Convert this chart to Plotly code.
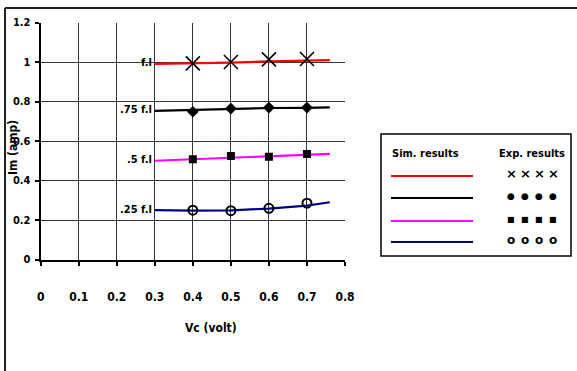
import plotly.graph_objects as go

# ---- data ----
sim_x = [0.3, 0.4, 0.5, 0.6, 0.7, 0.76]
sim_fl = [0.99, 0.993, 0.997, 1.003, 1.008, 1.01]
sim_75 = [0.753, 0.758, 0.765, 0.767, 0.768, 0.77]
sim_50 = [0.50, 0.507, 0.515, 0.522, 0.53, 0.535]
sim_25 = [0.25, 0.247, 0.249, 0.258, 0.273, 0.29]

exp_x = [0.4, 0.5, 0.6, 0.7]
exp_fl = [0.993, 1.0, 1.013, 1.015]
exp_75 = [0.748, 0.764, 0.769, 0.769]
exp_50 = [0.507, 0.524, 0.52, 0.534]
exp_25 = [0.25, 0.247, 0.259, 0.285]

load_labels = ["f.l", ".75 f.l", ".5 f.l", ".25 f.l"]
x_ticks = [0, 0.1, 0.2, 0.3, 0.4, 0.5, 0.6, 0.7, 0.8]
x_ticktext = ["0", "0.1", "0.2", "0.3", "0.4", "0.5", "0.6", "0.7", "0.8"]
y_ticks = [0, 0.2, 0.4, 0.6, 0.8, 1.0, 1.2]
y_ticktext = ["0", "0.2", "0.4", "0.6", "0.8", "1", "1.2"]

FONT = "DejaVu Sans Condensed, Liberation Sans Narrow, sans-serif"
W, H = 577, 371

colors = ["#ff0000", "#000000", "#ff00ff", "#000080"]
sims = [sim_fl, sim_75, sim_50, sim_25]
exps = [exp_fl, exp_75, exp_50, exp_25]
markers = [
    dict(symbol="x-thin", size=14, line=dict(width=1.6, color="black"), color="black"),
    dict(symbol="diamond", size=9, color="black"),
    dict(symbol="square", size=8, color="black"),
    dict(symbol="circle-open", size=9, line=dict(width=2, color="black"), color="black"),
]

fig = go.Figure()
for ys, c in zip(sims, colors):
    fig.add_trace(go.Scatter(x=sim_x, y=ys, mode="lines",
                             line=dict(color=c, width=2.2), showlegend=False))
for ys, m in zip(exps, markers):
    fig.add_trace(go.Scatter(x=exp_x, y=ys, mode="markers", marker=m, showlegend=False))

# series labels left of line starts
for lab, ys in zip(load_labels, sims):
    fig.add_annotation(x=sim_x[0], y=ys[0], text="<b>%s</b>" % lab, showarrow=False,
                       xanchor="right", yanchor="middle", xshift=-1, yshift=1,
                       font=dict(family=FONT, size=11, color="black"))

px = lambda v: v / W
py = lambda v: 1 - v / H

x0d, x1d = 40.7, 345
y0d, y1d = 259.5, 22.5

fig.update_layout(
    width=W, height=H,
    margin=dict(l=0, r=0, t=0, b=0, autoexpand=False),
    paper_bgcolor="white", plot_bgcolor="white",
    font=dict(family=FONT, size=11, color="black"),
    xaxis=dict(domain=[px(x0d), px(x1d)], range=[0, 0.8], automargin=False,
               tickvals=x_ticks, ticktext=["<b>%s</b>" % t for t in x_ticktext],
               showgrid=True, gridcolor="#333333", gridwidth=1,
               showline=True, linecolor="black", linewidth=2,
               ticks="outside", ticklen=4, tickcolor="black", tickwidth=1.5,
               ticklabelstandoff=21, zeroline=False,
               tickfont=dict(family=FONT, size=12)),
    yaxis=dict(domain=[py(y0d), py(y1d)], range=[0, 1.2], automargin=False,
               tickvals=y_ticks, ticktext=["<b>%s</b>" % t for t in y_ticktext],
               showgrid=True, gridcolor="#333333", gridwidth=1,
               showline=True, linecolor="black", linewidth=2,
               ticks="outside", ticklen=4, tickcolor="black", tickwidth=1.5,
               ticklabelstandoff=2,
               zeroline=False, tickfont=dict(family=FONT, size=11)),
)

def note(x, y, text, size=11, family=FONT, xanchor="center", angle=0):
    fig.add_annotation(xref="paper", yref="paper", x=px(x), y=py(y), text=text,
                       textangle=angle, showarrow=False, xanchor=xanchor, yanchor="middle",
                       font=dict(family=family, size=size, color="black"))

# axis titles
note(13, 148, "<b>Im (amp)</b>", size=12, angle=-90)
note(211, 328, "<b>Vc (volt)</b>", size=12)

# outer frame (top and left edges)
fig.add_shape(type="line", xref="paper", yref="paper", x0=px(5), x1=1, y0=py(8), y1=py(8),
              line=dict(color="#222222", width=2))
fig.add_shape(type="line", xref="paper", yref="paper", x0=px(5), x1=px(5), y0=py(8), y1=0,
              line=dict(color="#222222", width=2))

# custom legend box
fig.add_shape(type="rect", xref="paper", yref="paper", x0=px(381), x1=px(571),
              y0=py(256), y1=py(134), line=dict(color="black", width=1.5))
note(390, 153, "<b>Sim. results</b>", xanchor="left")
note(567, 153, "<b>Exp. results</b>", xanchor="right")
leg_rows = [174, 196, 219, 240]
leg_glyphs = ["\u00d7", "\u25cf", "\u25a0", "o"]
leg_sizes = [13, 9, 8, 12]
leg_cols = [511, 525, 539, 553]
for yy, c, g, fs in zip(leg_rows, colors, leg_glyphs, leg_sizes):
    fig.add_shape(type="line", xref="paper", yref="paper", x0=px(391), x1=px(473),
                  y0=py(yy + 2), y1=py(yy + 2), line=dict(color=c, width=2.2))
    for cx in leg_cols:
        note(cx, yy, "<b>%s</b>" % g, size=fs, family="DejaVu Sans")

fig.write_html("out.html", config={"displayModeBar": False},
               post_script="document.body.style.margin='0';")
